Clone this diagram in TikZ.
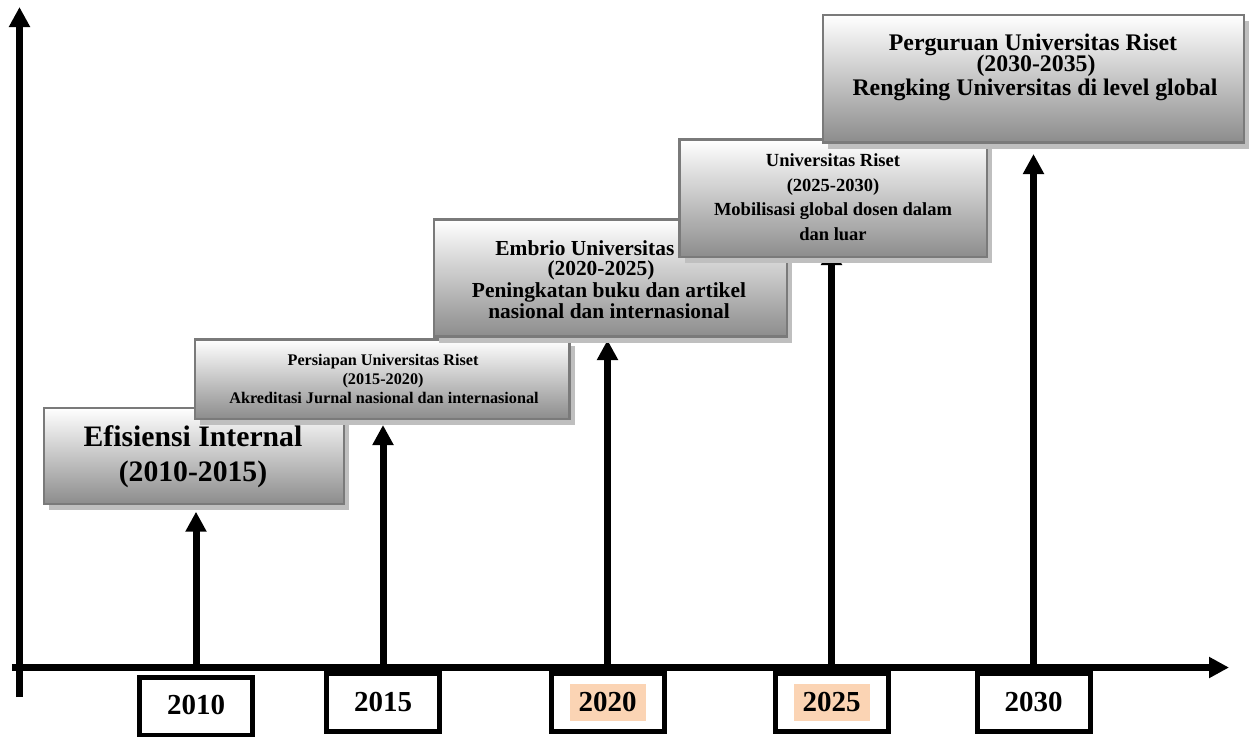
\documentclass[tikz,border=0pt]{standalone}
\usepackage{fontspec}
\setmainfont{Liberation Serif}
\usetikzlibrary{arrows.meta,shadows}
\definecolor{peach}{HTML}{FBD4B4}
\definecolor{framegray}{HTML}{7A7A7A}
\newcommand\yrtxt[1]{\rule[-5pt]{0pt}{18.5pt}#1}
\newcommand\hlyrtxt[1]{{\setlength{\fboxsep}{0pt}\colorbox{peach}{\hspace{4.5pt}\rule[-5pt]{0pt}{18.5pt}#1\hspace{4.5pt}}}}
\tikzset{
  axisline/.style={line width=3.4pt, -{Triangle[width=10pt,length=10pt]}},
  stagearrow/.style={line width=3.5pt, -{Triangle[width=10pt,length=10pt]}},
  stagebox/.style={draw=framegray, line width=1.25pt, top color=white, bottom color=black!45,
    inner sep=0pt, drop shadow={shadow xshift=2.5pt, shadow yshift=-3pt, fill=black!25, opacity=1}},
  yearbox/.style={draw=black, fill=white, line width=2.5pt, minimum width=56.5pt,
    minimum height=29pt, inner sep=0pt, font=\fontsize{14.5}{17}\selectfont\bfseries},
  txt/.style={anchor=base, inner sep=0pt},
  fA/.style={font=\fontsize{14.85}{17.5}\selectfont\bfseries},
  fB/.style={font=\fontsize{8.1}{9.7}\selectfont\bfseries},
  fC/.style={font=\fontsize{10.7}{10.7}\selectfont\bfseries},
  fD/.style={font=\fontsize{9.25}{12}\selectfont\bfseries},
  fE/.style={font=\fontsize{11.9}{11.5}\selectfont\bfseries},
}
\begin{document}
\begin{tikzpicture}[x=0.5pt,y=-0.5pt]
\useasboundingbox (0,0) rectangle (1252,736);
% axes
\coordinate (vbot) at (19.5,697);
\coordinate (vtop) at (19.5,7);
\coordinate (hleft) at (12,667.5);
\coordinate (hright) at (1229,667.5);
\draw[axisline] (vbot) -- (vtop);
\draw[axisline] (hleft) -- (hright);
% year boxes
\node[yearbox] (y2010) at (196,706) {\yrtxt{2010}};
\node[yearbox] (y2015) at (383,702.5) {\yrtxt{2015}};
\node[yearbox] (y2020) at (607.5,702.5) {\hlyrtxt{2020}};
\node[yearbox] (y2025) at (831.5,702.5) {\hlyrtxt{2025}};
\node[yearbox] (y2030) at (1033.5,702.5) {\yrtxt{2030}};
% stage boxes (positions only, drawn later)
\path (194,456) coordinate (c1) (382.25,379.25) coordinate (c2) (610.5,278) coordinate (c3)
      (833.25,198.25) coordinate (c4) (1033.5,78.75) coordinate (c5);
% arrows
\path (c1) ++(0,48) coordinate (s1b);
\path (c2) ++(0,39.75) coordinate (s2b);
\path (c3) ++(0,58.5) coordinate (s3b);
\path (c4) ++(0,58.75) coordinate (s4b);
\path (c5) ++(0,63.75) coordinate (s5b);
\draw[stagearrow, shorten >=3.85pt] ([yshift=3pt]y2010.north) -- (y2010.north |- s1b);
\draw[stagearrow, shorten >=3pt] ([yshift=3pt]y2015.north) -- (y2015.north |- s2b);
\draw[stagearrow, shorten >=1.75pt] ([yshift=3pt]y2020.north) -- (y2020.north |- s3b);
\draw[stagearrow, shorten >=-6pt] ([yshift=3pt]y2025.north) -- (y2025.north |- s4b);
\draw[stagearrow, shorten >=5.75pt] ([yshift=3pt]y2030.north) -- (y2030.north |- s5b);
% stage 1
\node[stagebox, minimum width=150pt, minimum height=48pt] (s1) at (c1) {};
\node[txt, fA] (s1a) at (193,446.7) {Efisiensi Internal};
\node[txt, fA] (s1c) at (193,481.7) {(2010-2015)};
% stage 2
\node[stagebox, minimum width=187.25pt, minimum height=39.75pt] (s2) at (c2) {};
\node[txt, fB] (s2a) at (383,365) {Persiapan Universitas Riset};
\node[txt, fB] (s2c) at (383,384.5) {(2015-2020)};
\node[txt, fB] (s2d) at (384,403.5) {Akreditasi Jurnal nasional dan internasional};
% stage 3
\node[stagebox, minimum width=176.5pt, minimum height=58.5pt] (s3) at (c3) {};
\node[txt, fC, anchor=base west] (s3a) at (495,255) {Embrio Universitas};
\node[txt, fC] (s3c) at (601,275.5) {(2020-2025)};
\node[txt, fC] (s3d) at (609,297) {Peningkatan buku dan artikel};
\node[txt, fC] (s3e) at (609,318) {nasional dan internasional};
% stage 4
\node[stagebox, minimum width=153.75pt, minimum height=58.75pt] (s4) at (c4) {};
\node[txt, fD] (s4a) at (833,166.7) {Universitas Riset};
\node[txt, fD] (s4c) at (833,191.7) {(2025-2030)};
\node[txt, fD] (s4d) at (833,215) {Mobilisasi global dosen dalam};
\node[txt, fD] (s4e) at (833,240) {dan luar};
% stage 5
\node[stagebox, minimum width=210.5pt, minimum height=63.75pt] (s5) at (c5) {};
\node[txt, fE] (s5a) at (1033,50) {Perguruan Universitas Riset};
\node[txt, fE] (s5c) at (1036,71.7) {(2030-2035)};
\node[txt, fE] (s5d) at (1035,95) {Rengking Universitas di level global};
\end{tikzpicture}
\end{document}
